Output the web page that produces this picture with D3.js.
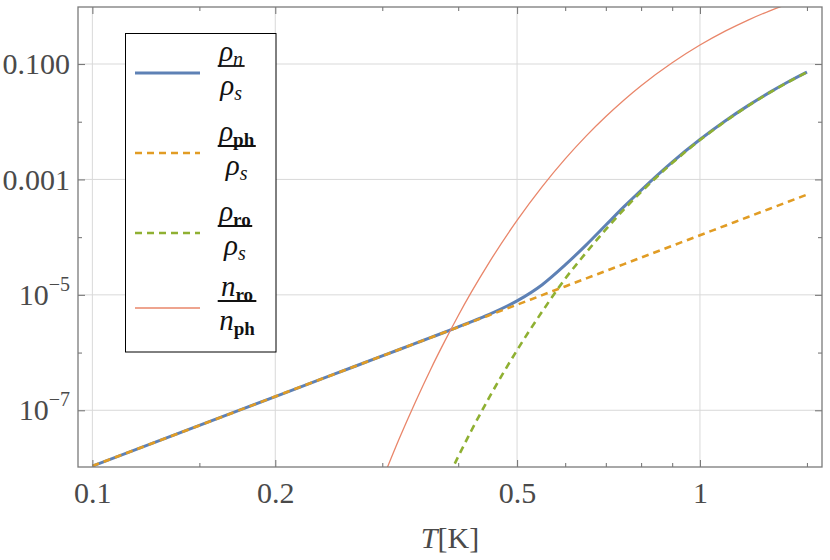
<!DOCTYPE html>
<html>
<head>
<meta charset="utf-8">
<script src="https://cdn.jsdelivr.net/npm/d3@7"></script>
<style>
  body { margin: 0; background: #fff; }
  svg text { font-family: "Liberation Serif", "Times New Roman", serif; }
</style>
</head>
<body>
<svg id="chart" width="830" height="560"></svg>
<script>
var temps = [0.1, 0.15, 0.2, 0.25, 0.3, 0.32, 0.34, 0.36, 0.38, 0.4, 0.42, 0.45, 0.5,
             0.55, 0.6, 0.65, 0.7, 0.75, 0.8, 0.9, 1.0, 1.1, 1.2, 1.3, 1.4, 1.5];

// rho_n / rho_s
var rhoN = [1.08e-8, 5.46e-8, 1.73e-7, 4.22e-7, 8.73e-7, 1.13e-6, 1.44e-6, 1.81e-6, 2.25e-6,
            2.78e-6, 3.40e-6, 4.59e-6, 7.85e-6, 1.50e-5, 3.3e-5, 7.36e-5, 1.62e-4, 3.37e-4,
            6.50e-4, 2.00e-3, 4.92e-3, 1.03e-2, 1.90e-2, 3.19e-2, 4.97e-2, 7.26e-2];
// rho_ph / rho_s
var rhoPh = [1.08e-8, 5.46e-8, 1.73e-7, 4.22e-7, 8.73e-7, 1.13e-6, 1.44e-6, 1.81e-6, 2.25e-6,
             2.76e-6, 3.36e-6, 4.43e-6, 6.75e-6, 9.89e-6, 1.40e-5, 1.93e-5, 2.59e-5, 3.41e-5,
             4.42e-5, 7.08e-5, 1.08e-4, 1.58e-4, 2.24e-4, 3.08e-4, 4.14e-4, 5.46e-4];
// rho_ro / rho_s  (null = far below the plot)
var rhoRo = [null, null, null, null, null, null, 3.61e-10, 1.47e-9, 5.11e-9,
             1.57e-8, 4.33e-8, 1.67e-7, 1.10e-6, 5.14e-6, 1.9e-5, 5.43e-5, 1.36e-4, 3.03e-4,
             6.07e-4, 1.92e-3, 4.81e-3, 1.01e-2, 1.88e-2, 3.16e-2, 4.92e-2, 7.21e-2];
// n_ro / n_ph
var nRatio = [null, null, null, null, 6.18e-9, 3.24e-8, 1.38e-7, 5.00e-7, 1.56e-6,
              4.35e-6, 1.09e-5, 3.66e-5, 1.95e-4, 7.52e-4, 2.27e-3, 5.69e-3, 1.23e-2, 2.38e-2,
              4.20e-2, 0.105, 0.213, 0.371, 0.578, 0.828, 1.11, 1.42];

var xMajor = [0.1, 0.2, 0.5, 1];
var xMajorLabels = ['0.1', '0.2', '0.5', '1'];
var xMinor = [0.15, 0.3, 0.4, 0.6, 0.7, 0.8, 0.9, 1.5];
var yMajor = [0.1, 0.001, 1e-5, 1e-7];
var yMajorLabels = [['0.100', ''], ['0.001', ''], ['10', '\u22125'], ['10', '\u22127']];
var yMinor = [0.01, 1e-4, 1e-6];

var series = [
  { values: rhoN,   color: '#5e81b5', width: 3,   dash: null },
  { values: rhoPh,  color: '#e19c24', width: 2.6, dash: '7,5' },
  { values: rhoRo,  color: '#8fb032', width: 2.6, dash: '7,5' },
  { values: nRatio, color: '#e9866a', width: 1.3, dash: null }
];

// legend fractions: [text, kind]  i = italic, si = italic subscript, sb = upright subscript
var legendNum = [
  [['\u03c1', 'i'], ['n', 'si']],
  [['\u03c1', 'i'], ['ph', 'sb']],
  [['\u03c1', 'i'], ['ro', 'sb']],
  [['n', 'i'], ['ro', 'sb']]
];
var legendDen = [
  [['\u03c1', 'i'], ['s', 'si']],
  [['\u03c1', 'i'], ['s', 'si']],
  [['\u03c1', 'i'], ['s', 'si']],
  [['n', 'i'], ['ph', 'sb']]
];
var legendRowY = [73, 153, 233, 308];

var svg = d3.select('#chart'),
    pLeft = 78, pRight = 822, pTop = 7, pBottom = 467;

var x = d3.scaleLog().domain([0.0947, 1.588]).range([pLeft, pRight]);
var y = d3.scaleLog().domain([1.04e-8, 0.9725]).range([pBottom, pTop]);

// grid
svg.append('g').selectAll('line')
  .data(xMajor).enter().append('line')
  .attr('x1', function (d) { return x(d); }).attr('x2', function (d) { return x(d); })
  .attr('y1', pTop).attr('y2', pBottom)
  .attr('stroke', '#d9d9d9').attr('stroke-width', 1);
svg.append('g').selectAll('line')
  .data(yMajor).enter().append('line')
  .attr('y1', function (d) { return y(d); }).attr('y2', function (d) { return y(d); })
  .attr('x1', pLeft).attr('x2', pRight)
  .attr('stroke', '#d9d9d9').attr('stroke-width', 1);

// curves
svg.append('clipPath').attr('id', 'plotclip')
  .append('rect').attr('x', pLeft).attr('y', pTop)
  .attr('width', pRight - pLeft).attr('height', pBottom - pTop);

var line = d3.line()
  .defined(function (d) { return d[1] != null; })
  .x(function (d) { return x(d[0]); })
  .y(function (d) { return y(d[1]); })
  .curve(d3.curveMonotoneX);

var curves = svg.append('g').attr('clip-path', 'url(#plotclip)');
series.forEach(function (s) {
  var pts = temps.map(function (t, i) { return [t, s.values[i]]; });
  curves.append('path')
    .attr('d', line(pts))
    .attr('fill', 'none')
    .attr('stroke', s.color)
    .attr('stroke-width', s.width)
    .attr('stroke-dasharray', s.dash);
});

// frame and ticks
function styleAxis(g) {
  g.select('.domain').remove();
  g.selectAll('.tick line').attr('stroke', '#7a7a7a').attr('stroke-width', 1.1);
  g.selectAll('.tick text').attr('fill', '#4a4a4a').attr('font-size', '30px')
    .attr('font-family', '"Liberation Serif", "Times New Roman", serif');
}

svg.append('g').attr('transform', 'translate(0,' + pBottom + ')')
  .call(d3.axisBottom(x).tickValues(xMajor).tickSize(-7).tickPadding(15)
    .tickFormat(function (d, i) { return xMajorLabels[i]; }))
  .call(styleAxis);
svg.append('g').attr('transform', 'translate(0,' + pBottom + ')')
  .call(d3.axisBottom(x).tickValues(xMinor).tickSize(-4).tickFormat(''))
  .call(styleAxis);
svg.append('g').attr('transform', 'translate(0,' + pTop + ')')
  .call(d3.axisTop(x).tickValues(xMajor).tickSize(-7).tickFormat(''))
  .call(styleAxis);
svg.append('g').attr('transform', 'translate(0,' + pTop + ')')
  .call(d3.axisTop(x).tickValues(xMinor).tickSize(-4).tickFormat(''))
  .call(styleAxis);

var yLeft = svg.append('g').attr('transform', 'translate(' + pLeft + ',0)')
  .call(d3.axisLeft(y).tickValues(yMajor).tickSize(-7).tickPadding(8).tickFormat(''))
  .call(styleAxis);
yLeft.selectAll('.tick text').each(function (d, i) {
  var t = d3.select(this);
  t.append('tspan').text(yMajorLabels[i][0]);
  if (yMajorLabels[i][1]) {
    t.append('tspan').attr('dy', -14).attr('font-size', '20px').text(yMajorLabels[i][1]);
  }
});
svg.append('g').attr('transform', 'translate(' + pLeft + ',0)')
  .call(d3.axisLeft(y).tickValues(yMinor).tickSize(-4).tickFormat(''))
  .call(styleAxis);
svg.append('g').attr('transform', 'translate(' + pRight + ',0)')
  .call(d3.axisRight(y).tickValues(yMajor).tickSize(-7).tickFormat(''))
  .call(styleAxis);
svg.append('g').attr('transform', 'translate(' + pRight + ',0)')
  .call(d3.axisRight(y).tickValues(yMinor).tickSize(-4).tickFormat(''))
  .call(styleAxis);

svg.append('rect')
  .attr('x', pLeft).attr('y', pTop)
  .attr('width', pRight - pLeft).attr('height', pBottom - pTop)
  .attr('fill', 'none').attr('stroke', '#7a7a7a').attr('stroke-width', 1.3);

// axis label
var xl = svg.append('text')
  .attr('x', (pLeft + pRight) / 2).attr('y', 548)
  .attr('text-anchor', 'middle').attr('font-size', '30px').attr('fill', '#4a4a4a');
xl.append('tspan').attr('font-style', 'italic').text('T');
xl.append('tspan').text('[K]');

// legend
var lg = svg.append('g');
lg.append('rect')
  .attr('x', 125.5).attr('y', 33.5).attr('width', 150.5).attr('height', 318.5)
  .attr('fill', '#fff').attr('stroke', '#000').attr('stroke-width', 1);

function writeParts(t, parts) {
  parts.forEach(function (p) {
    var s = t.append('tspan').text(p[0]);
    if (p[1] === 'i') {
      s.attr('font-style', 'italic').attr('font-size', '29px');
    } else if (p[1] === 'si') {
      s.attr('font-style', 'italic').attr('font-size', '20px').attr('dy', 5);
    } else {
      s.attr('font-weight', 'bold').attr('font-size', '19px').attr('dy', 5);
    }
  });
}

series.forEach(function (s, i) {
  var ry = legendRowY[i];
  lg.append('line')
    .attr('x1', 135).attr('x2', 200).attr('y1', ry).attr('y2', ry)
    .attr('stroke', s.color).attr('stroke-width', s.width)
    .attr('stroke-dasharray', s.dash);

  var barY = ry - 7;
  var num = lg.append('text').attr('y', barY - 5).attr('text-anchor', 'middle').attr('fill', '#111');
  writeParts(num, legendNum[i]);
  var den = lg.append('text').attr('y', barY + 29).attr('text-anchor', 'middle').attr('fill', '#111');
  writeParts(den, legendDen[i]);
  var w = Math.max(num.node().getComputedTextLength(), den.node().getComputedTextLength()) + 3;
  var cx = 217.7 + w / 2;
  num.attr('x', cx);
  den.attr('x', cx);
  lg.append('line')
    .attr('x1', 217.7).attr('x2', 217.7 + w).attr('y1', barY).attr('y2', barY)
    .attr('stroke', '#111').attr('stroke-width', 1.8);
});
</script>
</body>
</html>
